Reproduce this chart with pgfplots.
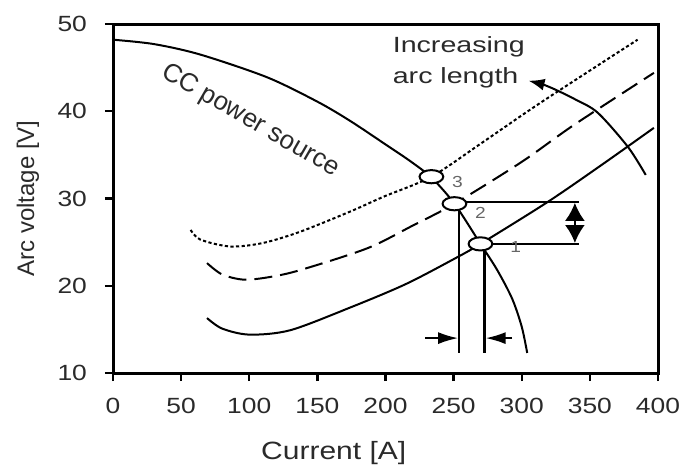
\documentclass[border=0pt]{standalone}
\usepackage{fontspec}
\setmainfont{Liberation Sans}
\usepackage{pgfplots}
\pgfplotsset{compat=1.18}
\usetikzlibrary{arrows.meta}
\definecolor{txt}{HTML}{2A2A2A}
\begin{document}
\begin{tikzpicture}
\path[use as bounding box] (-56.5pt,-47.5pt) rectangle (286pt,186.5pt);
\begin{axis}[
  scale only axis, width=272.5pt, height=174.5pt, at={(0,0)}, anchor=south west,
  xmin=0, xmax=400, ymin=10, ymax=50,
  xtick={0,50,...,400}, ytick={10,20,...,50},
  tick pos=left, tick align=outside,
  major tick length=4pt,
  every tick/.style={line width=1.2pt, black},
  axis line style={line width=1.5pt},
  /pgf/number format/assume math mode=true,
  ticklabel style={font=\fontsize{11}{13}\selectfont, text=txt},
  xticklabel style={xscale=1.2, yshift=-5pt},
  yticklabel style={xscale=1.2, xshift=-4pt},
  xlabel={Current [A]}, ylabel={Arc voltage [V]},
  xlabel style={at={(axis description cs:0.405,-0.229)}, anchor=center, font=\fontsize{12.5}{15}\selectfont, xscale=1.2, text=txt},
  ylabel style={at={(axis description cs:-0.156,0.5)}, anchor=center, font=\fontsize{12}{14}\selectfont, text=txt},
  clip=false,
]
% CC power source
\addplot[line width=1pt, smooth, black] coordinates {
(0,48.2)(30,47.7)(64,46.5)(113,43.9)(150,41.1)(174,38.9)(200,36.2)(218,34.3)(233.7,32.4)(250.6,29.4)(269.7,24.8)(282,21.8)(293,18.5)(300,15.3)(304,12.3)};
% arc characteristics
\addplot[line width=1pt, smooth, black] coordinates {
(69,16.3)(80,15.1)(100,14.4)(130,14.9)(174,17.5)(215,20.2)(253,23.3)(269.7,24.8)(319,29.6)(360,34.0)(397,38.1)};
\addplot[line width=1pt, smooth, black, dash pattern=on 9pt off 4pt] coordinates {
(69,22.6)(80,21.3)(96,20.7)(115,21.0)(137.5,21.8)(186.7,24.3)(220,26.9)(250.6,29.4)(300,34.2)(338,38.4)(397,44.4)};
\addplot[line width=1pt, smooth, black, dash pattern=on 1.6pt off 1.2pt] coordinates {
(57,26.4)(64,25.3)(86,24.5)(110,24.9)(137.5,26.2)(174,28.5)(198.5,30.2)(233.7,32.5)(270,36.3)(314,41.0)(385,48.2)};
% increasing arc length
\addplot[line width=1pt, smooth, black, {Latex[length=8pt,width=6pt]}-] coordinates {
(305,43.5)(320,42.8)(340,41.3)(356,39.8)(378,35.9)(391,32.7)};
% operating points
\addplot[only marks, mark=*, mark size=3.3pt, mark options={xscale=1.8, fill=white, draw=black, line width=1pt}] coordinates {(233.7,32.5)(250.6,29.4)(269.7,24.8)};
% construction lines
\addplot[line width=1.3pt, black] coordinates {(342,29.6)(254,29.6)(254,12.3)};
\addplot[line width=1.3pt, black] coordinates {(342,24.8)(272.8,24.8)(272.8,12.3)};
\addplot[line width=1pt, black, {Latex[length=9pt,width=10pt]}-{Latex[length=9pt,width=10pt]}] coordinates {(339,24.9)(339,29.5)};
\addplot[line width=1pt, black, -{Latex[length=10pt,width=6pt]}] coordinates {(229,14.0)(253.3,14.0)};
\addplot[line width=1pt, black, -{Latex[length=10pt,width=6pt]}] coordinates {(293,14.0)(273.5,14.0)};
% texts
\node[font=\fontsize{8}{9}\selectfont, text=black!60, xscale=1.2] at (axis cs:252.8,31.9) {3};
\node[font=\fontsize{8}{9}\selectfont, text=black!60, xscale=1.2] at (axis cs:269.7,28.3) {2};
\node[font=\fontsize{8}{9}\selectfont, text=black!60, xscale=1.2] at (axis cs:295.5,24.4) {1};
\node[font=\fontsize{13}{15}\selectfont, text=txt, rotate=-30] at (axis cs:100.7,38.9) {CC power source};
\node[font=\fontsize{11}{15.5}\selectfont, text=txt, xscale=1.3, align=left, anchor=north west, inner sep=0pt] at (axis cs:205,48.6) {Increasing\\arc length};
\end{axis}
\end{tikzpicture}
\end{document}
